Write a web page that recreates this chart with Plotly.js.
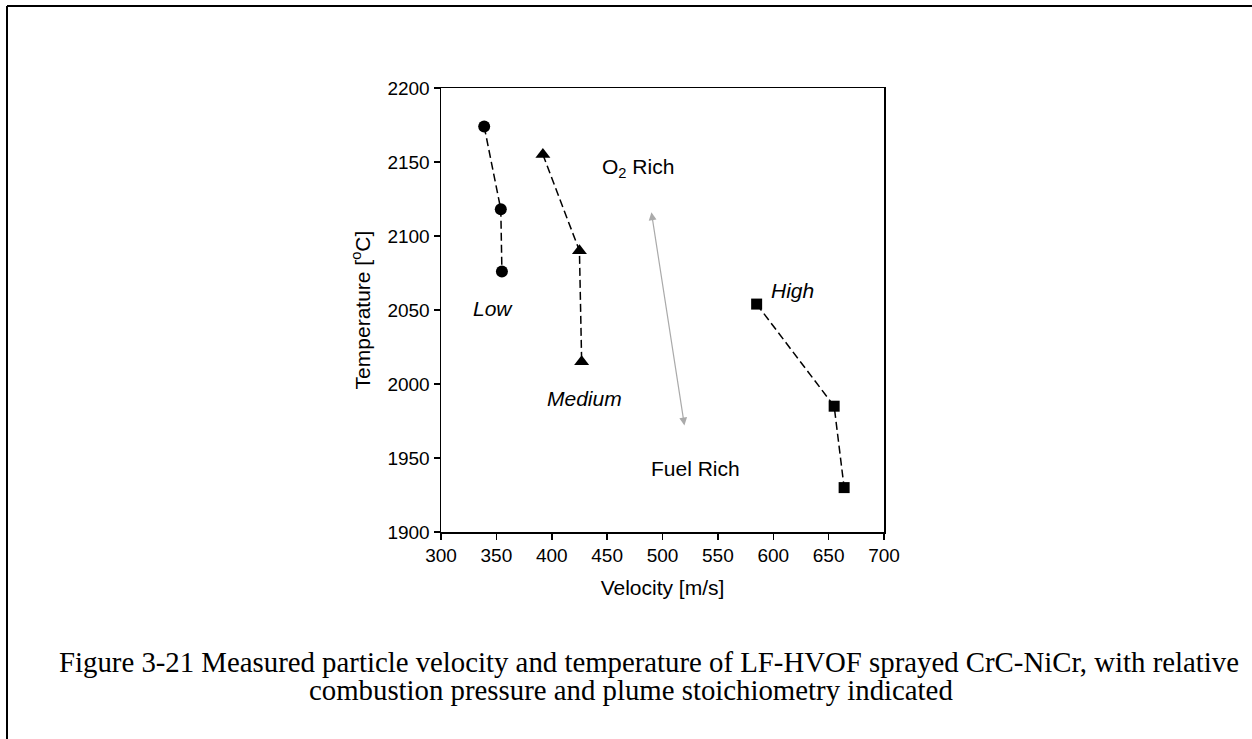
<!DOCTYPE html>
<html>
<head>
<meta charset="utf-8">
<script src="https://cdn.plot.ly/plotly-3.0.1.min.js"></script>
<style>html,body{margin:0;padding:0;background:#fff;}#chart{width:1252px;height:739px;}</style>
</head>
<body>
<div id="chart"></div>
<script>
const lowVelocity = [339, 354, 355];
const lowTemp = [2174, 2118, 2076];
const mediumVelocity = [392, 425, 427];
const mediumTemp = [2155, 2090, 2015];
const highVelocity = [585, 655, 664];
const highTemp = [2054, 1985, 1930];
const xTicks = [300, 350, 400, 450, 500, 550, 600, 650, 700];
const yTicks = [1900, 1950, 2000, 2050, 2100, 2150, 2200];
const arrowFrom = [520, 1971];
const arrowTo = [490, 2116];

const lineStyle = {color: '#000', width: 1.5, dash: '8px,4px'};
const traces = [
  {x: lowVelocity, y: lowTemp, mode: 'lines+markers', name: 'Low', line: lineStyle,
   marker: {symbol: 'circle', size: 12, color: '#000'}},
  {x: mediumVelocity, y: mediumTemp, mode: 'lines+markers', name: 'Medium', line: lineStyle,
   marker: {symbol: 'triangle-up', size: 13, color: '#000'}},
  {x: highVelocity, y: highTemp, mode: 'lines+markers', name: 'High', line: lineStyle,
   marker: {symbol: 'square', size: 11, color: '#000'}}
];

const font = {family: 'Liberation Sans, Arial, sans-serif', color: '#000'};
const annFont = Object.assign({}, font, {size: 21});
const capFont = {family: 'Liberation Serif, Times New Roman, serif', size: 28.8, color: '#000'};
function py(pix) { return (532 - pix) / 444; }
function px(pix) { return (pix - 441) / 443; }
const layout = {
  width: 1252, height: 739,
  margin: {l: 441, r: 368, t: 88, b: 207, pad: 0},
  paper_bgcolor: '#fff', plot_bgcolor: '#fff',
  showlegend: false,
  font: font,
  xaxis: {
    range: [300, 700], tickvals: xTicks, ticktext: xTicks.map(String),
    showgrid: false, zeroline: false, showline: true, mirror: true,
    linecolor: '#000', linewidth: 1.5, ticks: 'outside', ticklen: 6, tickwidth: 1.5, tickcolor: '#000',
    tickfont: Object.assign({}, font, {size: 19}),
    title: {text: 'Velocity [m/s]', font: Object.assign({}, font, {size: 21}), standoff: 15}
  },
  yaxis: {
    range: [1900, 2200], tickvals: yTicks, ticktext: yTicks.map(String),
    showgrid: false, zeroline: false, showline: true, mirror: true,
    linecolor: '#000', linewidth: 1.5, ticks: 'outside', ticklen: 6, tickwidth: 1.5, tickcolor: '#000',
    tickfont: Object.assign({}, font, {size: 19}),
    title: {text: 'Temperature [<sup>o</sup>C]', font: Object.assign({}, font, {size: 21}), standoff: 11}
  },
  annotations: [
    {x: arrowTo[0], y: arrowTo[1], ax: arrowFrom[0], ay: arrowFrom[1], axref: 'x', ayref: 'y',
     xref: 'x', yref: 'y', text: '', showarrow: true, arrowside: 'end+start', arrowhead: 2,
     startarrowhead: 2, arrowsize: 1.3, startarrowsize: 1.3, arrowwidth: 1.2, arrowcolor: '#aaaaaa'},
    {x: 478, y: 2146, xref: 'x', yref: 'y', text: 'O<sub>2</sub> Rich', showarrow: false, font: annFont},
    {x: 347, y: 2051, xref: 'x', yref: 'y', text: '<i>Low</i>', showarrow: false, font: annFont},
    {x: 430, y: 1990.5, xref: 'x', yref: 'y', text: '<i>Medium</i>', showarrow: false, font: annFont},
    {x: 617, y: 2063, xref: 'x', yref: 'y', text: '<i>High</i>', showarrow: false, font: annFont},
    {x: 530, y: 1943, xref: 'x', yref: 'y', text: 'Fuel Rich', showarrow: false, font: annFont},
    {x: px(649), y: py(662), xref: 'paper', yref: 'paper',
     xanchor: 'center', yanchor: 'middle', showarrow: false,
     text: 'Figure 3-21 Measured particle velocity and temperature of LF-HVOF sprayed CrC-NiCr, with relative',
     font: capFont},
    {x: px(631), y: py(690), xref: 'paper', yref: 'paper',
     xanchor: 'center', yanchor: 'middle', showarrow: false,
     text: 'combustion pressure and plume stoichiometry indicated',
     font: capFont}
  ],
  shapes: [
    {type: 'line', xref: 'paper', yref: 'paper', x0: px(7), x1: px(1252),
     y0: py(6), y1: py(6), line: {color: '#000', width: 2}},
    {type: 'line', xref: 'paper', yref: 'paper', x0: px(7), x1: px(7),
     y0: py(6), y1: py(739), line: {color: '#000', width: 2}}
  ]
};

Plotly.newPlot('chart', traces, layout, {displayModeBar: false, staticPlot: true});
</script>
</body>
</html>
